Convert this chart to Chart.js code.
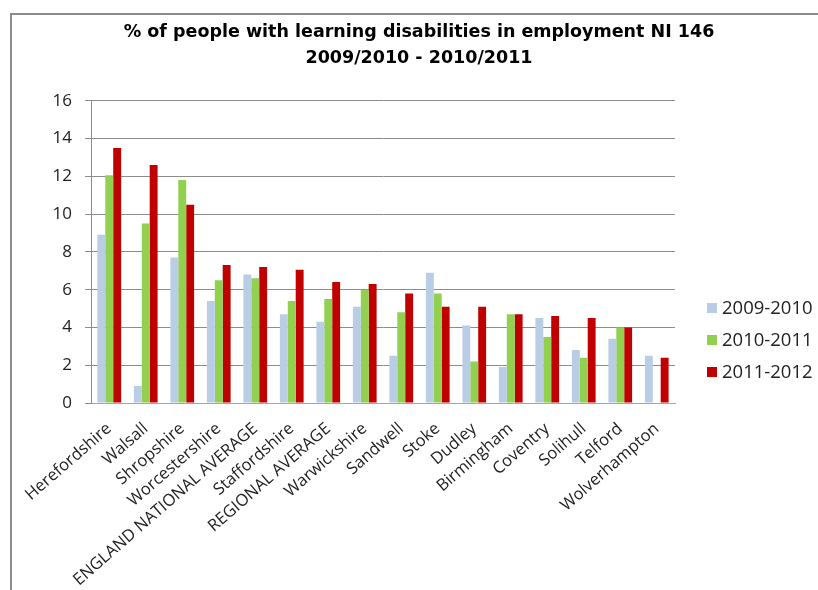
<!DOCTYPE html>
<html>
<head>
<meta charset="utf-8">
<script src="https://cdn.jsdelivr.net/npm/chart.js@4/dist/chart.umd.min.js"></script>
<style>
  html, body { margin: 0; padding: 0; background: #fff; overflow: hidden; }
  #wrap { position: relative; width: 818px; height: 590px; }
  #frame { position: absolute; left: 10px; top: 13px; width: 900px; height: 700px;
           border-top: 2px solid #8c8c8c; border-left: 2px solid #8c8c8c; }
  #chart { position: absolute; left: 0; top: 0; }
</style>
</head>
<body>
<div id="wrap">
  <div id="frame"></div>
  <canvas id="chart" width="818" height="590"></canvas>
</div>
<script>
'use strict';

var areas = ['Herefordshire', 'Walsall', 'Shropshire', 'Worcestershire',
  'ENGLAND NATIONAL AVERAGE', 'Staffordshire', 'REGIONAL AVERAGE', 'Warwickshire',
  'Sandwell', 'Stoke', 'Dudley', 'Birmingham', 'Coventry', 'Solihull', 'Telford',
  'Wolverhampton'];

var y2009 = [8.9, 0.9, 7.7, 5.4, 6.8, 4.7, 4.3, 5.1, 2.5, 6.9, 4.1, 1.9, 4.5, 2.8, 3.4, 2.5];
var y2010 = [12.05, 9.5, 11.8, 6.5, 6.6, 5.4, 5.5, 6.0, 4.8, 5.8, 2.2, 4.7, 3.5, 2.4, 4.0, null];
var y2011 = [13.5, 12.6, 10.5, 7.3, 7.2, 7.05, 6.4, 6.3, 5.8, 5.1, 5.1, 4.7, 4.6, 4.5, 4.0, 2.4];

var seriesNames = ['2009-2010', '2010-2011', '2011-2012'];
var seriesColours = ['#b9cde5', '#92d050', '#c00000'];

var titleLines = ['% of people with learning disabilities in employment NI 146',
  '2009/2010 - 2010/2011'];

// legend drawn by hand in the space kept free on the right
var sideLegend = {
  id: 'sideLegend',
  afterDraw: function (chart) {
    var c = chart.ctx;
    var area = chart.chartArea;
    c.save();
    c.font = '18.5px "Open Sans"';
    c.textBaseline = 'middle';
    c.textAlign = 'left';
    for (var i = 0; i < chart.data.datasets.length; i++) {
      var ds = chart.data.datasets[i];
      var y = area.bottom - 95 + i * 32;
      c.fillStyle = ds.backgroundColor;
      c.fillRect(area.right + 32, y - 5, 10, 10);
      c.fillStyle = '#222';
      c.fillText(ds.label, area.right + 47, y + 1);
    }
    c.restore();
  }
};

var datasets = [];
var values = [y2009, y2010, y2011];
for (var i = 0; i < values.length; i++) {
  datasets.push({
    label: seriesNames[i],
    data: values[i],
    backgroundColor: seriesColours[i],
    categoryPercentage: 0.65,
    barPercentage: 1.0
  });
}

var ctx = document.getElementById('chart').getContext('2d');
var chart = new Chart(ctx, {
  type: 'bar',
  data: { labels: areas, datasets: datasets },
  options: {
    responsive: false,
    animation: false,
    layout: { padding: { left: 20, right: 0, top: 20, bottom: 0 } },
    plugins: {
      legend: { display: false },
      tooltip: { enabled: false },
      title: {
        display: true,
        text: titleLines,
        color: '#000',
        font: { family: 'DejaVu Sans', size: 17.5, weight: 'bold', lineHeight: 1.45 },
        padding: { top: 0, bottom: 30 }
      }
    },
    scales: {
      x: {
        grid: { display: false },
        border: { color: '#a6a6a6' },
        ticks: {
          color: '#222',
          font: { family: 'Open Sans', size: 16.5 },
          minRotation: 41,
          maxRotation: 41,
          padding: 8,
          autoSkip: false
        },
        afterFit: function (s) { s.height = 187; }
      },
      y: {
        min: 0,
        max: 16,
        ticks: { stepSize: 2, color: '#222', font: { family: 'Open Sans', size: 17 }, padding: 13 },
        grid: { color: '#8c8c8c', tickLength: 6 },
        border: { color: '#8c8c8c' },
        afterFit: function (s) { s.width = 71; }
      },
      side: {
        position: 'right',
        display: true,
        grid: { display: false },
        border: { display: false },
        ticks: { display: false },
        afterFit: function (s) { s.width = 143; }
      }
    }
  },
  plugins: [sideLegend]
});
</script>
</body>
</html>
